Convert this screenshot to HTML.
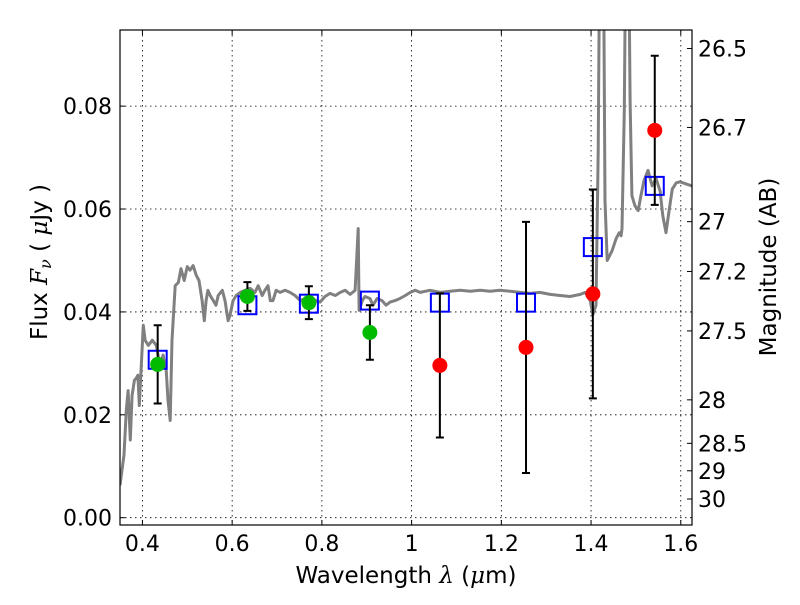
<!DOCTYPE html>
<html><head><meta charset="utf-8"><style>
body{margin:0;background:#fff;}
svg text{font-family:"DejaVu Sans","Liberation Sans",sans-serif;}
</style></head><body>
<svg id="chart" width="800" height="600" xmlns="http://www.w3.org/2000/svg">
<rect width="800" height="600" fill="#fff"/>
<defs><clipPath id="clip"><rect x="120" y="30" width="572" height="495"/></clipPath></defs>
<g id="grid"></g><g id="spec"></g><g id="marks"></g><g id="axes"></g>
</svg>
<script>
const specLam=[0.350,0.359,0.364,0.368,0.373,0.377,0.382,0.386,0.390,0.393,0.402,0.406,0.413,0.422,0.431,0.439,0.446,0.453,0.457,0.462,0.466,0.473,0.480,0.486,0.493,0.500,0.506,0.513,0.520,0.526,0.533,0.538,0.542,0.546,0.551,0.558,0.564,0.569,0.578,0.584,0.591,0.595,0.602,0.609,0.618,0.629,0.640,0.651,0.658,0.667,0.673,0.680,0.685,0.691,0.698,0.707,0.718,0.729,0.740,0.752,0.763,0.774,0.785,0.796,0.807,0.818,0.830,0.841,0.852,0.863,0.874,0.881,0.883,0.890,0.896,0.907,0.914,0.923,0.934,0.943,0.952,0.963,0.974,0.986,0.997,1.008,1.019,1.041,1.064,1.086,1.108,1.131,1.153,1.175,1.197,1.220,1.242,1.264,1.286,1.309,1.331,1.353,1.376,1.387,1.398,1.404,1.411,1.416,1.420,1.427,1.431,1.436,1.447,1.456,1.463,1.467,1.469,1.474,1.478,1.483,1.487,1.491,1.498,1.505,1.511,1.518,1.527,1.536,1.545,1.554,1.560,1.567,1.574,1.581,1.590,1.598,1.625];
const specFlux=[0.0063,0.0122,0.0209,0.0247,0.0151,0.0238,0.0267,0.0271,0.0277,0.0218,0.0374,0.0345,0.0335,0.0345,0.0335,0.0296,0.0316,0.0287,0.0228,0.0189,0.0345,0.0451,0.0457,0.0484,0.0461,0.0488,0.0481,0.0490,0.0471,0.0461,0.0422,0.0383,0.0422,0.0442,0.0432,0.0422,0.0413,0.0432,0.0442,0.0422,0.0383,0.0393,0.0422,0.0432,0.0438,0.0442,0.0446,0.0438,0.0451,0.0432,0.0442,0.0451,0.0422,0.0422,0.0442,0.0438,0.0442,0.0438,0.0432,0.0422,0.0426,0.0432,0.0422,0.0419,0.0430,0.0436,0.0432,0.0438,0.0442,0.0434,0.0442,0.0562,0.0403,0.0422,0.0430,0.0426,0.0413,0.0426,0.0422,0.0413,0.0419,0.0422,0.0426,0.0432,0.0438,0.0442,0.0438,0.0442,0.0438,0.0440,0.0442,0.0440,0.0442,0.0440,0.0442,0.0440,0.0438,0.0436,0.0438,0.0434,0.0432,0.0430,0.0434,0.0438,0.0422,0.0395,0.0413,0.0713,0.12,0.12,0.0616,0.0500,0.0519,0.0543,0.0554,0.0548,0.0562,0.0791,0.12,0.12,0.0810,0.0626,0.0606,0.0597,0.0626,0.0655,0.0675,0.0645,0.0659,0.0635,0.0587,0.0554,0.0597,0.0639,0.0651,0.0653,0.0645];
const bandLam=[0.434,0.634,0.771,0.907,1.063,1.255,1.404,1.542];
const modelFlux=[0.0307,0.0413,0.0416,0.0422,0.0418,0.0418,0.0526,0.0645];
const obsFlux=[0.0298,0.0430,0.0418,0.0360,0.0296,0.0331,0.0435,0.0753];
const obsErr=[0.0076,0.0028,0.0032,0.0053,0.0140,0.0244,0.0203,0.0145];
const obsColor=['#00bb00','#00bb00','#00bb00','#00bb00','#ff0000','#ff0000','#ff0000','#ff0000'];
const xTicks=[0.4,0.6,0.8,1.0,1.2,1.4,1.6];
const xTickLabels=['0.4','0.6','0.8','1','1.2','1.4','1.6'];
const yTicks=[0,0.02,0.04,0.06,0.08];
const yTickLabels=['0.00','0.02','0.04','0.06','0.08'];
const magTicks=[26.5,26.7,27,27.2,27.5,28,28.5,29,30];
const magTickLabels=['26.5','26.7','27','27.2','27.5','28','28.5','29','30'];

const L=120,R=692,T=30,B=525;
const xMin=0.35,xMax=1.625,yMin=-0.00142,yMax=0.0948;
const X=v=>L+(v-xMin)/(xMax-xMin)*(R-L);
const Y=v=>B-(v-yMin)/(yMax-yMin)*(B-T);
const magToFlux=m=>Math.pow(10,(23.9-m)/2.5);
const NS='http://www.w3.org/2000/svg';
function mk(parent,tag,attrs){const e=document.createElementNS(NS,tag);for(const k in attrs)e.setAttribute(k,attrs[k]);document.getElementById(parent).appendChild(e);return e;}

xTicks.forEach(t=>{
 const g=mk('grid','line',{x1:X(t),x2:X(t),y1:T,y2:B,stroke:'#000','stroke-width':0.8,'stroke-dasharray':'1.5,3.5'});
 
 
});
yTicks.forEach(t=>{
 const g=mk('grid','line',{x1:L,x2:R,y1:Y(t),y2:Y(t),stroke:'#000','stroke-width':0.8,'stroke-dasharray':'1.5,3.5'});
 
 
});

const sp=mk('spec','path',{d:specLam.map((l,i)=>(i?'L':'M')+X(l).toFixed(1)+','+Y(specFlux[i]).toFixed(1)).join(''),fill:'none',stroke:'#808080','stroke-width':3,'stroke-linejoin':'round','clip-path':'url(#clip)'});



bandLam.forEach((l,i)=>{
 const s=mk('marks','rect',{x:X(l)-9,y:Y(modelFlux[i])-9,width:18,height:18,fill:'none',stroke:'#0000ff','stroke-width':2});
 
 
});
bandLam.forEach((l,i)=>{
 const x=X(l),y1=Y(obsFlux[i]+obsErr[i]),y2=Y(obsFlux[i]-obsErr[i]);
 const e=mk('marks','path',{d:`M${x},${y1}V${y2}M${x-4},${y1}H${x+4}M${x-4},${y2}H${x+4}`,stroke:'#000','stroke-width':2,fill:'none'});
 
 
 const c=mk('marks','circle',{cx:x,cy:Y(obsFlux[i]),r:7.5,fill:obsColor[i]});
 
 
});

const fr=mk('axes','rect',{x:L,y:T,width:R-L,height:B-T,fill:'none',stroke:'#000','stroke-width':1.2});


xTicks.forEach((t,i)=>{
 const x=X(t);
 const tk=mk('axes','path',{d:`M${x},${B}V${B-5}M${x},${T}V${T+5}`,stroke:'#000','stroke-width':1});
 
 
 const tx=mk('axes','text',{x:x,y:B+26,'text-anchor':'middle','font-size':22});
 tx.textContent=xTickLabels[i];
 
 
});
yTicks.forEach((t,i)=>{
 const y=Y(t);
 const tk=mk('axes','path',{d:`M${L},${y}H${L+5}`,stroke:'#000','stroke-width':1});
 
 
 const tx=mk('axes','text',{x:L-8,y:y+8,'text-anchor':'end','font-size':22});
 tx.textContent=yTickLabels[i];
 
 
});
magTicks.forEach((m,i)=>{
 const y=Y(magToFlux(m));
 const tk=mk('axes','path',{d:`M${R},${y}H${R-5}`,stroke:'#000','stroke-width':1});
 
 
 const tx=mk('axes','text',{x:R+6,y:y+8,'font-size':22});
 tx.textContent=magTickLabels[i];
 
 
});
</script>
<svg style="position:absolute;left:0;top:0" width="800" height="600" xmlns="http://www.w3.org/2000/svg">
<text x="406" y="583" text-anchor="middle" font-size="23" font-family="DejaVu Sans, Liberation Sans, sans-serif">Wavelength  <tspan font-family="DejaVu Serif, serif" font-style="italic">λ</tspan> (<tspan font-family="DejaVu Serif, serif" font-style="italic">μ</tspan>m)</text>
<text transform="translate(47,262) rotate(-90)" text-anchor="middle" font-size="23" font-family="DejaVu Sans, Liberation Sans, sans-serif">Flux  <tspan font-family="DejaVu Serif, serif" font-style="italic">F</tspan><tspan font-family="DejaVu Serif, serif" font-style="italic" font-size="16" dy="4">ν</tspan><tspan dy="-4">  (  </tspan><tspan font-family="DejaVu Serif, serif" font-style="italic">μ</tspan>Jy )</text>
<text transform="translate(776,267) rotate(-90)" text-anchor="middle" font-size="23" font-family="DejaVu Sans, Liberation Sans, sans-serif">Magnitude (AB)</text>
</svg>
</body></html>
